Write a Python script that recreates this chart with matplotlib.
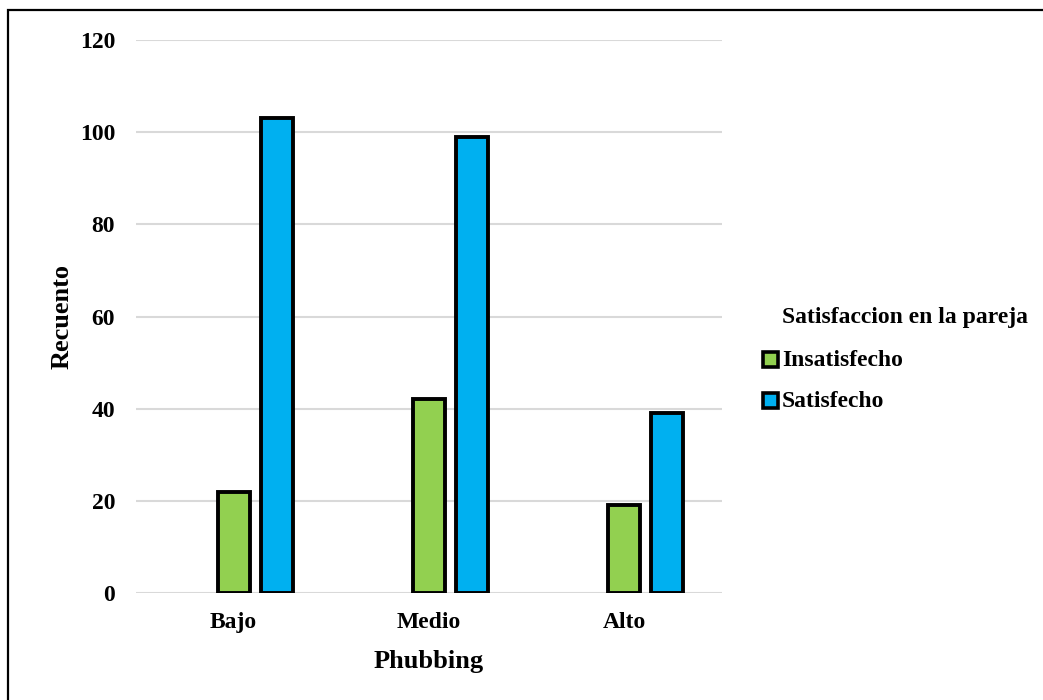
import matplotlib
matplotlib.use("Agg")
import matplotlib.pyplot as plt
from matplotlib.patches import Rectangle
import numpy as np

categories = ["Bajo", "Medio", "Alto"]
insatisfecho = [22, 42, 19]
satisfecho = [103, 99, 39]
series_names = ["Insatisfecho", "Satisfecho"]
legend_title = "Satisfaccion en la pareja"
yticks = [0, 20, 40, 60, 80, 100, 120]

plt.rcParams['font.family'] = ['Liberation Serif', 'DejaVu Serif']
plt.rcParams['font.weight'] = 'bold'

W, H = 1043, 700
fig = plt.figure(figsize=(W / 100, H / 100), dpi=100)
ax = fig.add_axes([136 / W, 1 - 593 / H, (722 - 136) / W, (593 - 40) / H])

green = "#92D050"
blue = "#00B0F0"
x = np.arange(len(categories))
bw = 0.165
off = 0.22
ax.bar(x, insatisfecho, width=bw, color=green, edgecolor="black", linewidth=2.8, zorder=3)
ax.bar(x + off, satisfecho, width=bw, color=blue, edgecolor="black", linewidth=2.8, zorder=3)

ax.set_xlim(-0.5, len(categories) - 0.5)
ax.set_ylim(0, 120)
ax.set_yticks(yticks)
ax.set_yticklabels([str(v) for v in yticks], fontsize=17, fontweight='bold')
ax.set_xticks(x)
ax.set_xticklabels(categories, fontsize=17, fontweight='bold')
ax.tick_params(axis='y', length=0, pad=15)
ax.tick_params(axis='x', length=0, pad=14)
ax.grid(axis='y', color="#d9d9d9", linewidth=1.5, zorder=0)
ax.set_axisbelow(True)
for s in ax.spines.values():
    s.set_visible(False)

ax.set_xlabel("Phubbing", fontsize=19, fontweight='bold')
ax.xaxis.set_label_coords(0.5, -0.103)
ax.set_ylabel("Recuento", fontsize=19, fontweight='bold')
ax.yaxis.set_label_coords(-0.106, 0.5)

# legend (manual, figure pixel coordinates)
def fx(px):
    return px / W
def fy(py):
    return 1 - py / H

fig.text(fx(782), fy(323), legend_title, fontsize=17, fontweight='bold', va='baseline', ha='left')
for name, col, base in zip(series_names, [green, blue], [366, 407]):
    fig.patches.append(Rectangle((fx(762.5), fy(base + 0.5)), 15 / W, 15 / H,
                                 transform=fig.transFigure, facecolor=col,
                                 edgecolor="black", linewidth=2.6))
    fig.text(fx(782), fy(base), name, fontsize=17, fontweight='bold', va='baseline', ha='left')

# outer border (top and left visible)
fig.patches.append(Rectangle((fx(8), fy(800)), (1200 - 8) / W, (800 - 10) / H,
                             transform=fig.transFigure, facecolor='none',
                             edgecolor='black', linewidth=1.6, clip_on=False))

fig.savefig("out.png", dpi=100)
